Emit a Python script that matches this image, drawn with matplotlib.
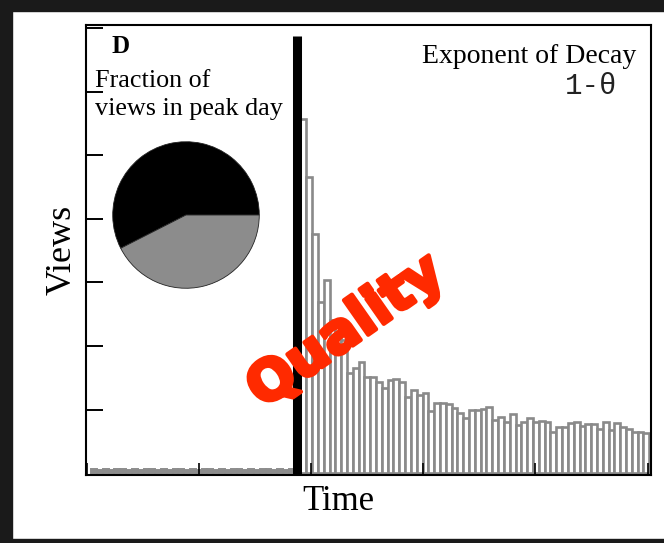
import numpy as np
import matplotlib
matplotlib.use("Agg")
import matplotlib.pyplot as plt
import matplotlib.patheffects as pe
from matplotlib.patches import Rectangle

# views per day after the peak (arbitrary units)
post_views = [5.57, 4.66, 3.76, 2.69, 3.04, 2.41, 2.33, 2.09, 1.57, 1.65,
              1.75, 1.51, 1.51, 1.43, 1.34, 1.46, 1.48, 1.43, 1.20, 1.31,
              1.23, 1.26, 0.98, 1.10, 1.10, 1.09, 1.02, 0.94, 0.87, 0.99,
              0.99, 1.01, 1.04, 0.83, 0.88, 0.80, 0.93, 0.76, 0.80, 0.87,
              0.80, 0.82, 0.80, 0.65, 0.72, 0.72, 0.79, 0.80, 0.74, 0.77,
              0.77, 0.69, 0.80, 0.68, 0.79, 0.72, 0.69, 0.65, 0.65, 0.63]
# views per day before the peak
pre_views = [0.06, 0.05, 0.06, 0.05, 0.06, 0.06, 0.05, 0.06, 0.05, 0.06,
             0.06, 0.05, 0.06, 0.05, 0.06, 0.06, 0.05, 0.06, 0.05, 0.06,
             0.06, 0.05, 0.06, 0.05, 0.06, 0.06, 0.05, 0.06, 0.05, 0.06,
             0.06, 0.05, 0.06, 0.05, 0.06, 0.07]
peak_day = -0.6
peak_line_top = 6.87
x_ticks = np.linspace(-36.7, 59.7, 6)
y_ticks = [1, 2, 3, 4, 5, 6, 7]

pie_fracs = [0.575, 0.425]

W, H = 664, 543
fig = plt.figure(figsize=(W / 100, H / 100), dpi=100)
serif = "Liberation Serif"

ax = fig.add_axes([86 / W, 1 - 475 / H, 565 / W, 450 / H])

pre_days = np.arange(-len(pre_views), 0)
post_days = np.arange(len(post_views))
ax.bar(pre_days, pre_views, width=1, align="edge", color="#8c8c8c",
       edgecolor="#8c8c8c", linewidth=1.4)
ax.bar(post_days, post_views, width=1, align="edge", color="white",
       edgecolor="#8a8a8a", linewidth=1.9)
ax.vlines(peak_day, 0 - 0.03, peak_line_top, color="black", linewidth=6.5)

ax.set_xlim(-36.9, 60.3)
ax.set_ylim(-0.03, 7.05)
ax.set_xticks(x_ticks)
ax.set_yticks(y_ticks)
ax.tick_params(axis="x", direction="in", length=9, width=1.2,
               labelbottom=False)
ax.tick_params(axis="y", direction="in", length=12, width=1.4,
               labelleft=False)
for s in ax.spines.values():
    s.set_linewidth(1.5)

# pie inset
pax = fig.add_axes([112 / W, 1 - 289 / H, 148 / W, 148 / H])
pax.pie(pie_fracs, colors=["black", "#8c8c8c"], startangle=0,
        counterclock=True, radius=1,
        wedgeprops=dict(edgecolor="#222222", linewidth=0.6))
pax.set_xlim(-1.01, 1.01)
pax.set_ylim(-1.01, 1.01)
pax.set_aspect("equal")

def ft(x, y, s, **kw):
    return fig.text(x / W, 1 - y / H, s, **kw)

ft(111, 53, "D", family=serif, fontsize=18, fontweight="bold", va="baseline")
ft(95, 87, "Fraction of", family=serif, fontsize=18.8, va="baseline")
ft(95, 115, "views in peak day", family=serif, fontsize=18.8, va="baseline")
ft(636, 63, "Exponent of Decay", family=serif, fontsize=20, ha="right",
   va="baseline")
ft(617, 94, "1-\u03b8", family="Liberation Mono", fontsize=21, ha="right",
   va="baseline", color="#222222")
ft(62, 250, "Views", family=serif, fontsize=26, rotation=90,
   ha="center", va="center")
ft(338, 501, "Time", family=serif, fontsize=25, ha="center", va="center")

ft(346, 332, "Quality", family="DejaVu Sans", fontsize=40, fontweight="heavy",
   color="#ff2a00", rotation=35, ha="center", va="center",
   rotation_mode="anchor",
   path_effects=[pe.withStroke(linewidth=3, foreground="#ff2a00")])

# dark frame round the figure
band = "#1a1a1a"
fig.add_artist(Rectangle((0, 0), 12 / W, 1, transform=fig.transFigure,
                         color=band))
fig.add_artist(Rectangle((0, 1 - 11 / H), 1, 11 / H, transform=fig.transFigure,
                         color=band))
fig.add_artist(Rectangle((0, 0), 1, 4 / H, transform=fig.transFigure,
                         color=band))

fig.savefig("out.png", dpi=100)
